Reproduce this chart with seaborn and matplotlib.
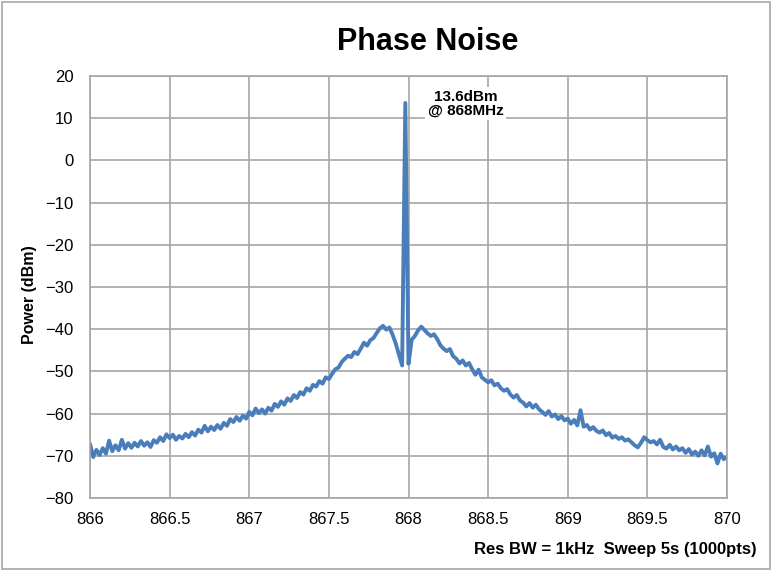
import numpy as np
import matplotlib
matplotlib.use("Agg")
import matplotlib.pyplot as plt
import seaborn as sns
from matplotlib.patches import Rectangle

# sweep 866 - 870 MHz (dBm)
power = [
    -67.2, -70.3, -68.6, -69.8, -68.2, -69.5, -66.4, -68.9, -67.5, -68.7,
    -66.2, -68.3, -67.0, -68.1, -66.9, -67.8, -66.5, -67.6, -66.8, -67.9,
    -66.3, -66.9, -65.6, -66.5, -64.9, -65.8, -65.0, -66.2, -65.3, -65.9,
    -64.8, -65.6, -64.4, -65.2, -63.8, -64.5, -62.9, -64.2, -63.1, -63.9,
    -62.7, -63.6, -62.2, -62.9, -61.3, -62.0, -60.8, -61.7, -60.5, -61.2,
    -59.6, -60.4, -58.8, -59.9, -59.0, -60.0, -58.6, -59.3, -57.7, -58.4,
    -57.1, -57.9, -56.4, -57.0, -55.6, -56.3, -54.9, -55.5, -54.0, -54.6,
    -53.2, -53.6, -52.3, -52.9, -51.4, -51.8, -50.6, -49.5, -49.1, -47.8,
    -47.0, -46.3, -46.6, -45.4, -45.9, -44.6, -43.2, -43.9, -42.6, -42.1,
    -40.9, -39.8, -39.2, -40.1, -39.6, -41.3, -43.4, -46.0, -48.6, 13.6,
    -48.2, -42.5, -41.6, -40.3, -39.4, -40.2, -41.0, -41.6, -41.2, -42.3,
    -43.8, -44.6, -45.2, -44.7, -46.4, -47.0, -48.1, -47.4, -48.6, -48.0,
    -49.5, -50.8, -49.6, -51.4, -52.0, -52.6, -52.1, -53.3, -52.9, -54.0,
    -54.6, -54.2, -55.5, -56.2, -55.6, -56.9, -57.4, -58.3, -57.5, -58.6,
    -57.9, -59.0, -59.6, -60.3, -59.4, -60.7, -60.2, -61.3, -60.6, -61.6,
    -61.2, -62.4, -61.5, -62.8, -59.2, -63.1, -62.7, -63.8, -63.2, -64.1,
    -64.5, -64.0, -65.1, -64.6, -65.7, -65.3, -66.0, -65.6, -66.4, -66.1,
    -66.8, -67.5, -68.0, -66.9, -65.6, -66.3, -66.8, -66.5, -67.3, -66.2,
    -67.9, -68.3, -67.4, -68.5, -67.8, -68.7, -68.2, -69.3, -68.4, -69.7,
    -69.0, -70.0, -68.7, -69.9, -67.8, -70.2, -69.4, -71.8, -69.5, -70.8,
    -70.3,
]
freq = np.linspace(866, 870, len(power))

xticks = [866, 866.5, 867, 867.5, 868, 868.5, 869, 869.5, 870]
xlabels = ["866", "866.5", "867", "867.5", "868", "868.5", "869", "869.5", "870"]
yticks = [-80, -70, -60, -50, -40, -30, -20, -10, 0, 10, 20]

peak_label = "13.6dBm\n@ 868MHz"
note = "Res BW = 1kHz  Sweep 5s (1000pts)"

sns.set_style("white")
plt.rcParams["font.family"] = ["Liberation Sans", "DejaVu Sans"]
plt.rcParams["text.color"] = "black"
plt.rcParams["axes.labelcolor"] = "black"

fig = plt.figure(figsize=(7.72, 5.7), dpi=100)
ax = fig.add_axes([0.1166, 0.1263, 0.8251, 0.7404])

grid_col = "#A6A6A6"
sns.lineplot(x=freq, y=power, ax=ax, color="#4A7EBB", linewidth=2.8,
             estimator=None, sort=False)

ax.set_xlim(866, 870)
ax.set_ylim(-80, 20)
ax.set_xticks(xticks)
ax.set_xticklabels(xlabels)
ax.set_yticks(yticks)
ax.grid(True, color=grid_col, linewidth=1.2)
ax.set_axisbelow(True)
for s in ax.spines.values():
    s.set_color(grid_col)
    s.set_linewidth(1.2)
ax.tick_params(axis="both", direction="out", length=5, width=1.2,
               color=grid_col, labelsize=12, labelcolor="black")
ax.tick_params(axis="y", pad=7)
ax.tick_params(axis="x", pad=5)

ax.set_ylabel("Power (dBm)", fontsize=11.5, fontweight="bold", color="black")
ax.yaxis.set_label_coords(-0.083, 0.482)

ax.text(868.36, 13.4, peak_label, ha="center", va="center", fontsize=11,
        fontweight="bold", linespacing=0.95, color="black",
        bbox=dict(facecolor="white", edgecolor="none", pad=2))

fig.text(0.554, 0.926, "Phase Noise", ha="center", va="center",
         fontsize=22, fontweight="bold", color="black")
fig.text(0.9806, 0.0368, note, ha="right", va="center",
         fontsize=12, fontweight="bold", color="black")

fig.patches.append(Rectangle((0.002, 0.002), 0.996, 0.995, transform=fig.transFigure,
                             fill=False, edgecolor=grid_col, linewidth=1.2))

fig.savefig("out.png", dpi=100)
